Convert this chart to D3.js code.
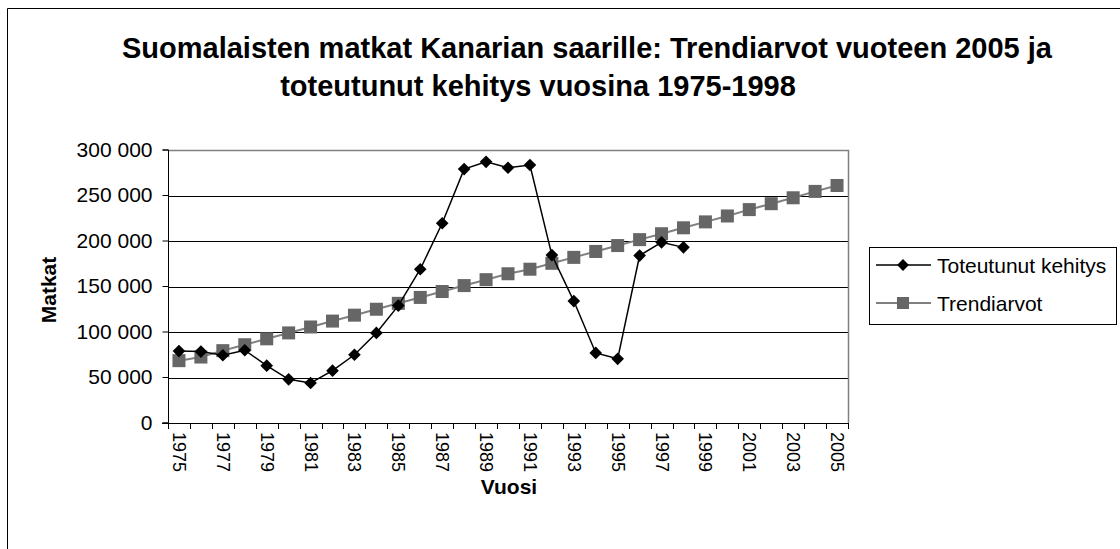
<!DOCTYPE html>
<html><head><meta charset="utf-8">
<script src="https://cdn.jsdelivr.net/npm/d3@7"></script>
<style>
html,body{margin:0;padding:0;background:#fff;}
svg{display:block;font-family:Arial,"Liberation Sans",sans-serif;}
</style></head>
<body><svg id="c" width="1120" height="549"></svg>
<script>
const years = d3.range(1975, 2006);
const actualYears = d3.range(1975, 1999);
const actualValues = [79000, 78500, 74500, 80000, 63000, 48000, 44000, 57500, 75000, 99000,
  129000, 169000, 219500, 279000, 287000, 280500, 283500, 184500, 134000, 77000,
  70500, 184000, 198500, 193000];
const trendValues = [68500, 72500, 79500, 86000, 92500, 99000, 105500, 112000, 118500, 125000,
  131500, 138000, 144500, 151000, 157500, 164000, 169000, 175500, 182000, 188500,
  195000, 201500, 208000, 214500, 221000, 227500, 234500, 241000, 247500, 254500, 261000];
const yTicks = [0, 50000, 100000, 150000, 200000, 250000, 300000];
const titleLines = ["Suomalaisten matkat Kanarian saarille: Trendiarvot vuoteen 2005 ja",
                    "toteutunut kehitys vuosina 1975-1998"];
const seriesNames = ["Toteutunut kehitys", "Trendiarvot"];

const svg = d3.select("#c");
const loc = d3.formatLocale({decimal:",", thousands:"\u00a0", grouping:[3], currency:["",""]});
const fmt = loc.format(",d");

const x = d3.scaleBand().domain(years).range([168, 848]).padding(0);
const y = d3.scaleLinear().domain([0, 300000]).range([423, 150]);
const cx = d => x(d) + x.bandwidth() / 2;

// outer border
svg.append("path").attr("d", "M7.5,549 V8.5 H1120").attr("fill","none").attr("stroke","#000").attr("stroke-width",1);

// title
svg.append("text").attr("x", 587).attr("y", 58).attr("text-anchor","middle")
  .attr("font-size", 29).attr("font-weight","bold").text(titleLines[0]);
svg.append("text").attr("x", 538).attr("y", 96).attr("text-anchor","middle")
  .attr("font-size", 29).attr("font-weight","bold").text(titleLines[1]);

// gridlines
svg.append("g").selectAll("line").data(yTicks.filter(v => v > 0 && v < 300000)).join("line")
  .attr("x1", 168).attr("x2", 848).attr("y1", d => Math.round(y(d)) + 0.5).attr("y2", d => Math.round(y(d)) + 0.5)
  .attr("stroke", "#000").attr("stroke-width", 1);
// plot border top/right
svg.append("path").attr("d", `M168,${Math.round(y(300000))+0.5} H848.5 V423`).attr("fill","none")
  .attr("stroke","#808080").attr("stroke-width",1.5);

// y axis
const ya = svg.append("g").attr("transform","translate(168.5,0)")
  .call(d3.axisLeft(y).tickValues(yTicks).tickFormat(fmt).tickSize(6).tickPadding(10).offset(0));
ya.select(".domain").attr("stroke","#000").attr("d", `M-6,${y(300000)}H0V${y(0)}H-6`);
ya.selectAll("text").attr("font-size", 21).attr("fill","#000").attr("font-family","Arial,'Liberation Sans',sans-serif");
ya.selectAll("line").attr("stroke","#000");

// x axis
svg.append("line").attr("x1",162).attr("x2",848).attr("y1",423.5).attr("y2",423.5).attr("stroke","#000");
const bounds = years.map(d => x(d)).concat([x.range()[1]]);
svg.append("g").selectAll("line").data(bounds).join("line")
  .attr("x1", d => Math.round(d)+0.5).attr("x2", d => Math.round(d)+0.5).attr("y1", 423).attr("y2", 429)
  .attr("stroke","#000");
svg.append("g").selectAll("text").data(years.filter((d,i) => i % 2 === 0)).join("text")
  .attr("transform", d => `translate(${cx(d)},432) rotate(90)`)
  .attr("dominant-baseline","central").attr("font-size", 18).text(d => d);

// axis titles
svg.append("text").attr("transform","translate(48,290) rotate(-90)").attr("text-anchor","middle")
  .attr("dominant-baseline","central").attr("font-size",21).attr("font-weight","bold").text("Matkat");
svg.append("text").attr("x",509).attr("y",494).attr("text-anchor","middle")
  .attr("font-size",21).attr("font-weight","bold").text("Vuosi");

// trend series
const trendData = years.map((d,i) => ({yr:d, v:trendValues[i]}));
const actualData = actualYears.map((d,i) => ({yr:d, v:actualValues[i]}));
const line = d3.line().x(d => cx(d.yr)).y(d => y(d.v));
svg.append("path").datum(trendData).attr("d", line).attr("fill","none").attr("stroke","#808080").attr("stroke-width",2);
svg.append("g").selectAll("rect").data(trendData).join("rect")
  .attr("x", d => cx(d.yr)-6.5).attr("y", d => y(d.v)-6.5).attr("width",13).attr("height",13).attr("fill","#666666");

svg.append("path").datum(actualData).attr("d", line).attr("fill","none").attr("stroke","#000").attr("stroke-width",1.5);
svg.append("g").selectAll("path").data(actualData).join("path")
  .attr("d", d3.symbol().type(d3.symbolSquare).size(80))
  .attr("transform", d => `translate(${cx(d.yr)},${y(d.v)}) rotate(45)`)
  .attr("fill","#000");

// legend
const lg = svg.append("g");
lg.append("rect").attr("x",869.5).attr("y",247.5).attr("width",247).attr("height",77).attr("fill","#fff").attr("stroke","#000");
lg.append("line").attr("x1",876).attr("x2",931).attr("y1",265).attr("y2",265).attr("stroke","#000").attr("stroke-width",1.5);
lg.append("path").attr("d", d3.symbol().type(d3.symbolSquare).size(70)).attr("transform","translate(903,265) rotate(45)").attr("fill","#000");
lg.append("text").attr("x",937).attr("y",265).attr("dominant-baseline","central").attr("font-size",21).text(seriesNames[0]);
lg.append("line").attr("x1",876).attr("x2",931).attr("y1",303).attr("y2",303).attr("stroke","#808080").attr("stroke-width",2);
lg.append("rect").attr("x",897).attr("y",297).attr("width",12).attr("height",12).attr("fill","#666666");
lg.append("text").attr("x",937).attr("y",303).attr("dominant-baseline","central").attr("font-size",21).text(seriesNames[1]);
</script></body></html>
